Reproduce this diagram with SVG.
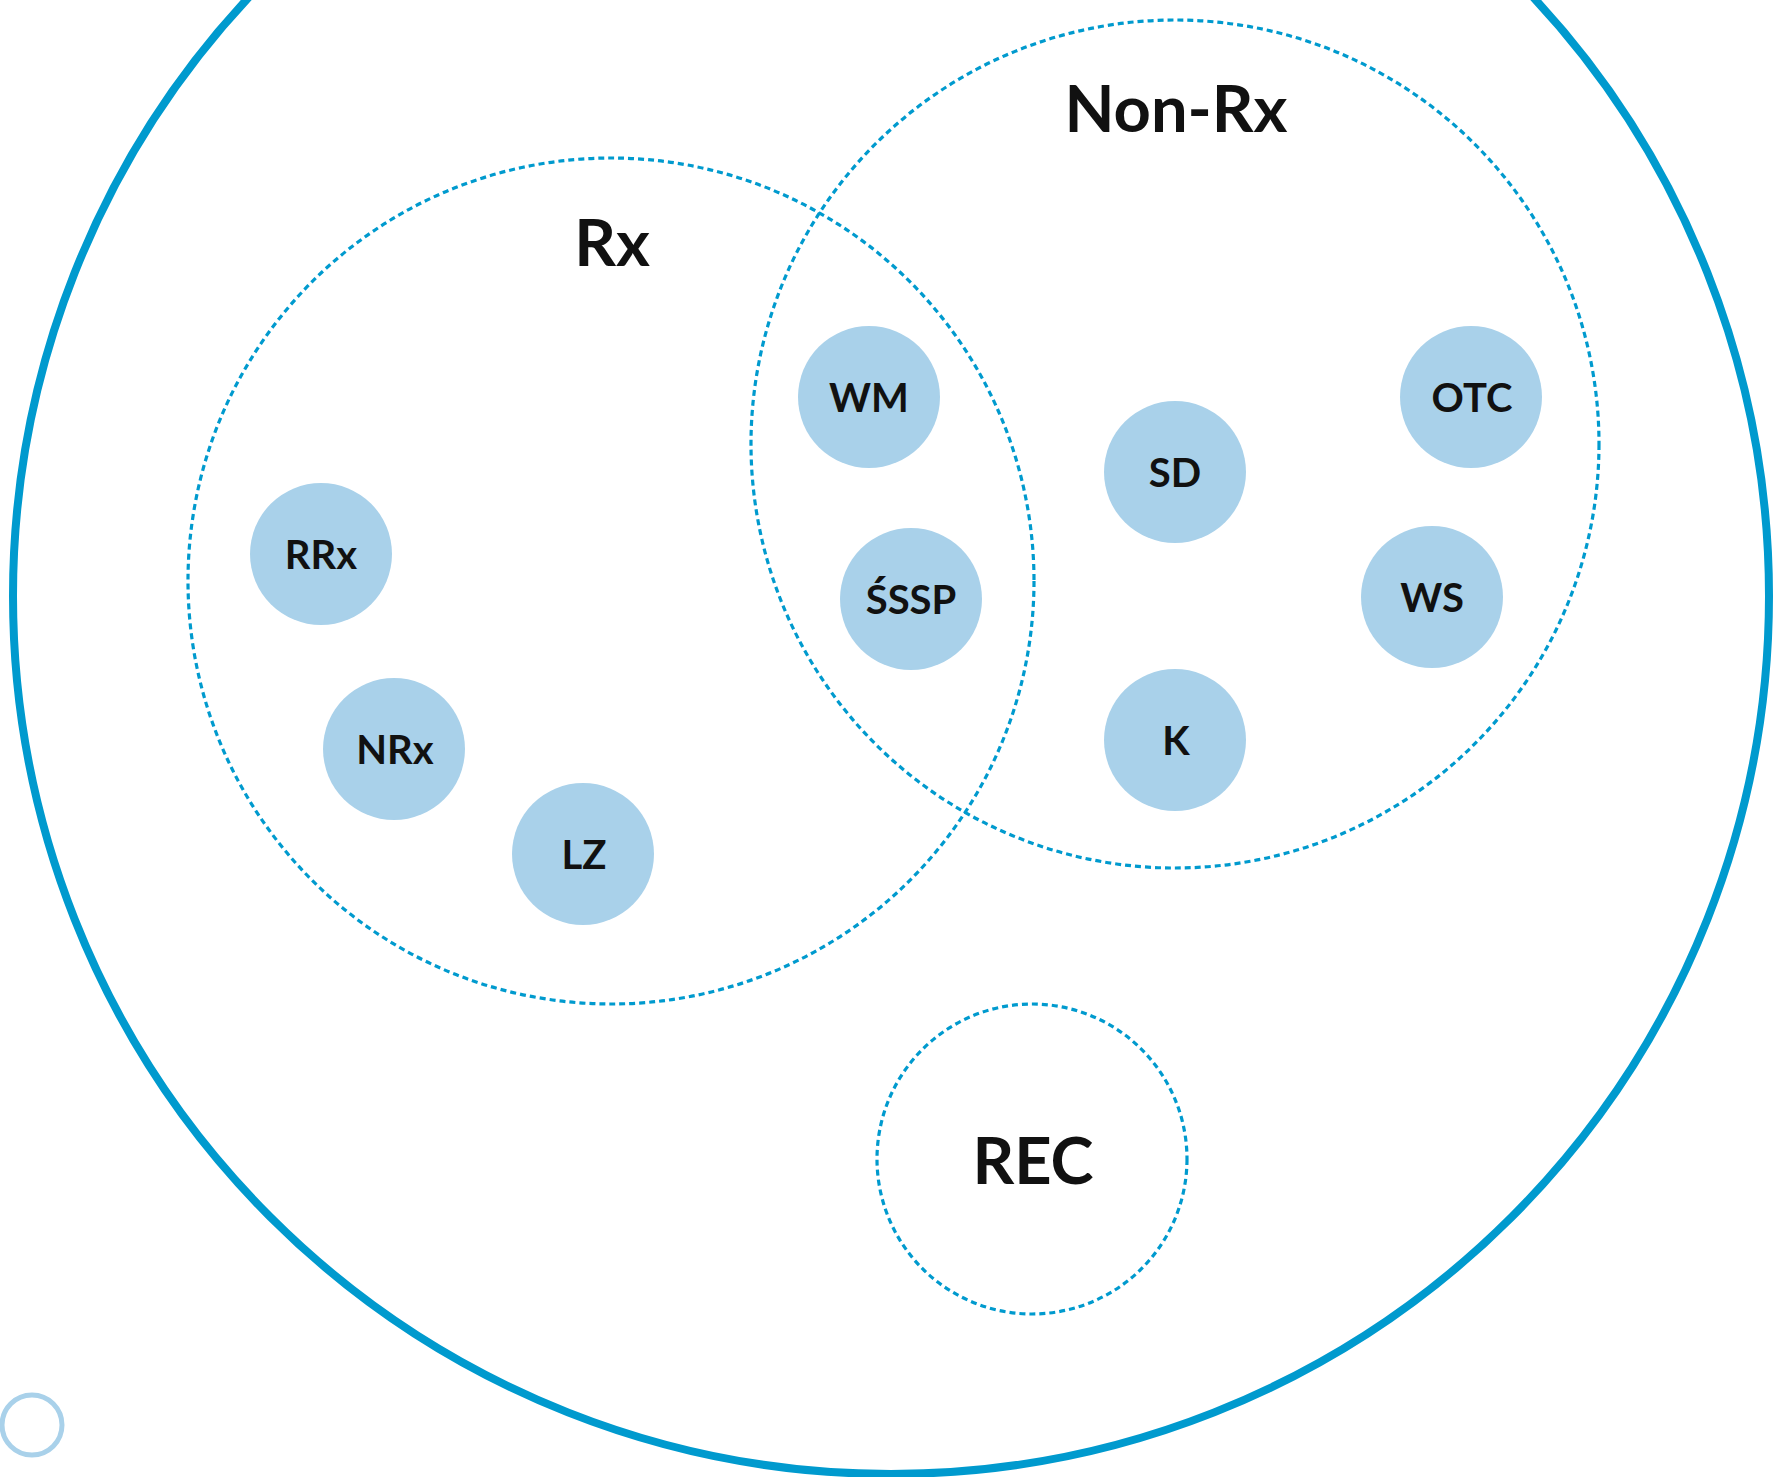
<svg xmlns="http://www.w3.org/2000/svg" width="1775" height="1477" viewBox="0 0 1775 1477">
<style>
.outer{fill:none;stroke:#009ACE;stroke-width:8}
.set{fill:none;stroke:#009ACE;stroke-width:3.2;stroke-dasharray:6 4}
.node{fill:#A9D1EA}
.lbl{font-family:Lato,"Liberation Sans",sans-serif;font-weight:700;font-size:40px;fill:#111;text-anchor:middle}
.big{font-family:Lato,"Liberation Sans",sans-serif;font-weight:700;font-size:65px;fill:#111;text-anchor:middle}
</style>
<rect width="1775" height="1477" fill="#fff"/>
<circle class="outer" cx="891" cy="596" r="878"/>
<circle cx="32" cy="1425" r="30" fill="none" stroke="#A9D1EA" stroke-width="5"/>
<g id="rx"><circle class="set" cx="611" cy="581" r="423"/><text class="big" x="612" y="266">Rx</text></g>
<g id="nonrx"><circle class="set" cx="1175" cy="444" r="424"/><text class="big" x="1176" y="132">Non-Rx</text></g>
<g id="rec"><circle class="set" cx="1032" cy="1159" r="155"/><text class="big" x="1033" y="1184">REC</text></g>
<g id="WM"><circle class="node" cx="869" cy="397" r="71"/><text class="lbl" x="869" y="412">WM</text></g>
<g id="SD"><circle class="node" cx="1175" cy="472" r="71"/><text class="lbl" x="1175" y="487">SD</text></g>
<g id="OTC"><circle class="node" cx="1471" cy="397" r="71"/><text class="lbl" x="1472" y="412">OTC</text></g>
<g id="RRx"><circle class="node" cx="321" cy="554" r="71"/><text class="lbl" x="321" y="569">RRx</text></g>
<g id="SSSP"><circle class="node" cx="911" cy="599" r="71"/><text class="lbl" x="911" y="614">ŚSSP</text></g>
<g id="WS"><circle class="node" cx="1432" cy="597" r="71"/><text class="lbl" x="1432" y="612">WS</text></g>
<g id="NRx"><circle class="node" cx="394" cy="749" r="71"/><text class="lbl" x="395" y="764">NRx</text></g>
<g id="K"><circle class="node" cx="1175" cy="740" r="71"/><text class="lbl" x="1176" y="755">K</text></g>
<g id="LZ"><circle class="node" cx="583" cy="854" r="71"/><text class="lbl" x="584" y="869">LZ</text></g>
<g id="connectors"></g>
</svg>
